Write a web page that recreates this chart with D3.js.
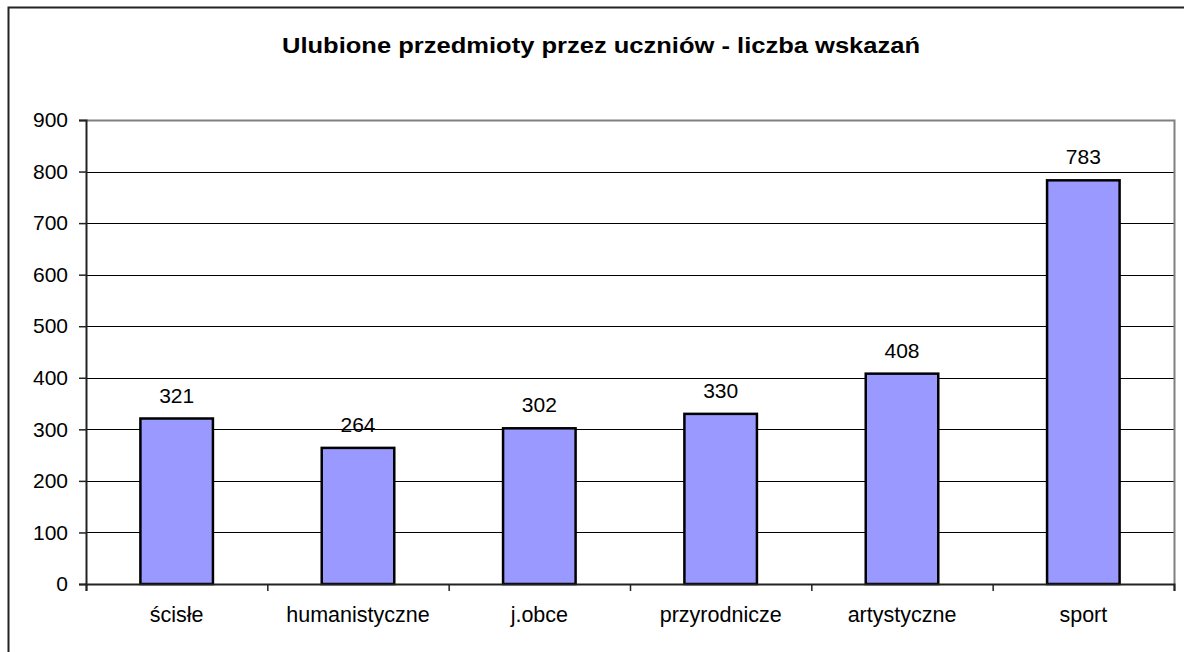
<!DOCTYPE html>
<html>
<head>
<meta charset="utf-8">
<script src="https://cdn.jsdelivr.net/npm/d3@7"></script>
<style>
  body { margin: 0; background: #fff; }
  text { font-family: Arial, "Liberation Sans", sans-serif; fill: #000; }
</style>
</head>
<body>
<div id="chart"></div>
<script>
var title = "Ulubione przedmioty przez uczniów - liczba wskazań";
var categories = ["ścisłe", "humanistyczne", "j.obce", "przyrodnicze", "artystyczne", "sport"];
var values = [321, 264, 302, 330, 408, 783];
var yTicks = [0, 100, 200, 300, 400, 500, 600, 700, 800, 900];

var W = 1184, H = 652;
var plot = { left: 86, right: 1174, top: 120, bottom: 584 };

var svg = d3.select("#chart")
    .append("svg")
    .attr("width", W)
    .attr("height", H);

// outer chart frame (right and bottom edges fall outside the picture)
svg.append("rect")
    .attr("x", 8.5)
    .attr("y", 7.5)
    .attr("width", 1200)
    .attr("height", 700)
    .attr("fill", "#fff")
    .attr("stroke", "#222")
    .attr("stroke-width", 2);

// title is a bit stretched sideways in the original
svg.append("text")
    .attr("x", 601)
    .attr("y", 53)
    .attr("text-anchor", "middle")
    .attr("textLength", 638)
    .attr("lengthAdjust", "spacingAndGlyphs")
    .style("font-size", "22.5px")
    .style("font-weight", "bold")
    .text(title);

var x = d3.scaleBand()
    .domain(categories)
    .range([plot.left, plot.right])
    .paddingInner(0.6)
    .paddingOuter(0.3);

var y = d3.scaleLinear()
    .domain([0, 900])
    .range([plot.bottom, plot.top]);

// gridlines
svg.append("g")
    .selectAll("line")
    .data(yTicks.filter(function (d) { return d > 0 && d < 900; }))
    .enter()
    .append("line")
    .attr("x1", plot.left)
    .attr("x2", plot.right)
    .attr("y1", function (d) { return Math.round(y(d)) + 0.5; })
    .attr("y2", function (d) { return Math.round(y(d)) + 0.5; })
    .attr("stroke", "#000")
    .attr("stroke-width", 1);

// plot area border (top and right in grey)
svg.append("path")
    .attr("d", "M" + plot.left + "," + (plot.top + 0.5) + "H" + (plot.right + 0.5) + "V" + plot.bottom)
    .attr("fill", "none")
    .attr("stroke", "#808080")
    .attr("stroke-width", 2);

// bars
svg.append("g")
    .selectAll("rect")
    .data(values)
    .enter()
    .append("rect")
    .attr("x", function (d, i) { return x(categories[i]); })
    .attr("y", function (d) { return y(d); })
    .attr("width", x.bandwidth())
    .attr("height", function (d) { return y(0) - y(d); })
    .attr("fill", "#9999ff")
    .attr("stroke", "#000")
    .attr("stroke-width", 2.5);

// value labels
svg.append("g")
    .selectAll("text")
    .data(values)
    .enter()
    .append("text")
    .attr("x", function (d, i) { return x(categories[i]) + x.bandwidth() / 2; })
    .attr("y", function (d) { return y(d) - 16; })
    .attr("text-anchor", "middle")
    .style("font-size", "21px")
    .text(function (d) { return d; });

// y axis
var yAxis = svg.append("g")
    .attr("transform", "translate(" + plot.left + ",0)")
    .call(d3.axisLeft(y).tickValues(yTicks).tickSize(7).tickPadding(11));
yAxis.select(".domain").attr("stroke", "#222").attr("stroke-width", 2);
yAxis.selectAll("line").attr("stroke", "#222").attr("stroke-width", 1.5);
yAxis.selectAll("text")
    .style("font-size", "21px")
    .style("font-family", "Arial, 'Liberation Sans', sans-serif")
    .attr("fill", "#000");

// x axis: ticks at category boundaries
var xb = d3.scaleLinear().domain([0, categories.length]).range([plot.left, plot.right]);
var xAxis = svg.append("g")
    .attr("transform", "translate(0," + plot.bottom + ")")
    .call(d3.axisBottom(xb).tickValues(d3.range(0, categories.length + 1)).tickSize(7).tickFormat(""));
xAxis.select(".domain").attr("stroke", "#222").attr("stroke-width", 2);
xAxis.selectAll("line").attr("stroke", "#222").attr("stroke-width", 1.5);

// category labels
var xLabels = svg.append("g")
    .attr("transform", "translate(0," + plot.bottom + ")")
    .call(d3.axisBottom(x).tickSize(0).tickPadding(23));
xLabels.select(".domain").remove();
xLabels.selectAll("text")
    .style("font-size", "21.5px")
    .style("font-family", "Arial, 'Liberation Sans', sans-serif")
    .attr("fill", "#000");
</script>
</body>
</html>
